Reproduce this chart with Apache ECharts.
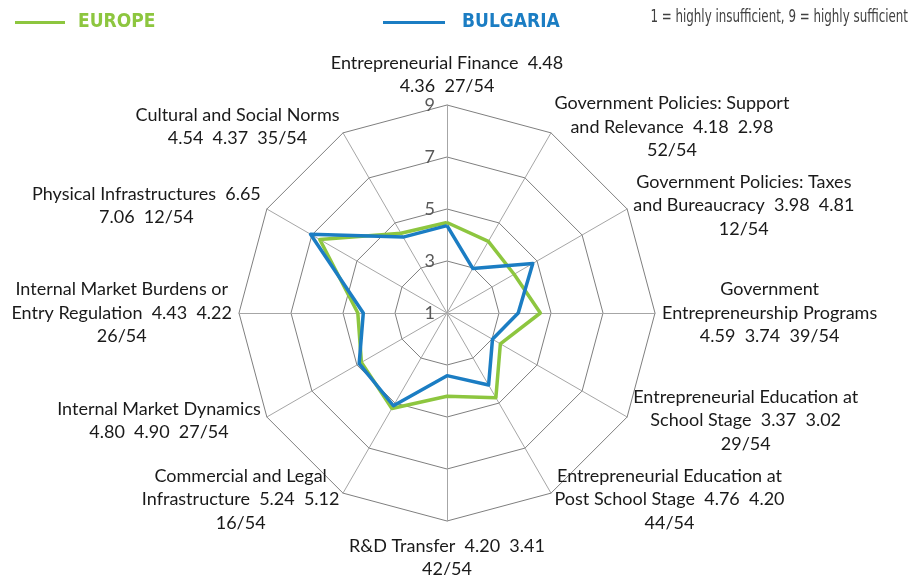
<!DOCTYPE html>
<html>
<head>
<meta charset="utf-8">
<title>GEM Expert Survey – Bulgaria vs Europe</title>
<script src="https://cdn.jsdelivr.net/npm/echarts@6/dist/echarts.min.js"></script>
<style>
  html, body { margin: 0; padding: 0; background: #ffffff; }
  #chart { width: 924px; height: 575px; }
</style>
</head>
<body>
<div id="chart"></div>
<script>
// Framework conditions, listed counter-clockwise starting from the top axis
const indicatorNames = [
  'Entrepreneurial Finance',
  'Cultural and Social Norms',
  'Physical Infrastructures',
  'Internal Market Burdens or\nEntry Regulation',
  'Internal Market Dynamics',
  'Commercial and Legal\nInfrastructure',
  'R&D Transfer',
  'Entrepreneurial Education at\nPost School Stage',
  'Entrepreneurial Education at\nSchool Stage',
  'Government\nEntrepreneurship Programs',
  'Government Policies: Taxes\nand Bureaucracy',
  'Government Policies: Support\nand Relevance'
];
const europeValues   = [4.48, 4.54, 6.65, 4.43, 4.80, 5.24, 4.20, 4.76, 3.37, 4.59, 3.98, 4.18];
const bulgariaValues = [4.36, 4.37, 7.06, 4.22, 4.90, 5.12, 3.41, 4.20, 3.02, 3.74, 4.81, 2.98];
const bulgariaRanks  = ['27/54', '35/54', '12/54', '26/54', '27/54', '16/54', '42/54', '44/54', '29/54', '39/54', '12/54', '52/54'];
// how many of the values stay on the name's last line before wrapping
const valuesOnNameLine = [1, 0, 1, 2, 0, 2, 2, 2, 2, 0, 2, 2];
const scaleMin = 1;
const scaleMax = 9;
const scaleNote = '1 = highly insufficient, 9 = highly sufficient';

const GREEN = '#8dc63f';
const BLUE = '#1b7dc3';
const BODY_FONT = 'Lato, "Open Sans", sans-serif';
const NARROW_FONT = '"Liberation Sans Narrow", "DejaVu Sans Condensed", "Roboto", sans-serif';

function buildLabel(i) {
  const vals = [europeValues[i].toFixed(2), bulgariaValues[i].toFixed(2), bulgariaRanks[i]];
  const k = valuesOnNameLine[i];
  const nameLines = indicatorNames[i].split('\n');
  const head = vals.slice(0, k);
  const tail = vals.slice(k);
  const last = nameLines.length - 1;
  if (head.length) nameLines[last] = nameLines[last] + '  ' + head.join('  ');
  const lines = nameLines.concat(tail.length ? [tail.join('  ')] : []);
  return lines.map(l => '{c|' + l + '}').join('\n');
}

const labelByName = {};
indicatorNames.forEach((n, i) => { labelByName[n] = buildLabel(i); });

const indicators = indicatorNames.map((n, i) => {
  const ind = { name: n, min: scaleMin, max: scaleMax };
  if (i === 0) ind.axisLabel = { show: true };      // scale numbers only on the top axis
  if (i === 6) ind.nameGap = 13;                     // bottom axis name sits a bit lower
  return ind;
});

const chart = echarts.init(document.getElementById('chart'), null, { renderer: 'canvas' });

chart.setOption({
  animation: false,
  backgroundColor: '#ffffff',
  legend: [
    {
      left: 10, top: 8,
      icon: 'rect', itemWidth: 50, itemHeight: 3,
      selectedMode: false,
      data: [{ name: 'EUROPE', textStyle: { color: GREEN } }],
      textStyle: { fontFamily: NARROW_FONT, fontSize: 19, fontWeight: 'bold', padding: [0, 0, 0, 8] }
    },
    {
      left: 378, top: 8,
      icon: 'rect', itemWidth: 62, itemHeight: 3,
      selectedMode: false,
      data: [{ name: 'BULGARIA', textStyle: { color: BLUE } }],
      textStyle: { fontFamily: NARROW_FONT, fontSize: 19, fontWeight: 'bold', padding: [0, 0, 0, 12] }
    }
  ],
  graphic: [{
    type: 'text',
    right: 16,
    top: 8,
    scaleX: 0.66,
    originX: 0,
    style: {
      text: scaleNote,
      fontFamily: '"DejaVu Sans", sans-serif',
      fontSize: 18,
      fill: '#404040'
    }
  }],
  radar: {
    center: [447, 313],
    radius: 208,
    startAngle: 90,
    shape: 'polygon',
    splitNumber: 4,
    indicator: indicators,
    nameGap: 7,
    axisName: {
      formatter: (name) => labelByName[name],
      rich: {
        c: { align: 'center', fontFamily: BODY_FONT, fontSize: 18, lineHeight: 23.5, color: '#1a1a1a' }
      }
    },
    axisLine: { show: true, lineStyle: { color: '#a6a6a6', width: 1 } },
    axisTick: { show: false },
    axisLabel: {
      show: false,
      fontFamily: BODY_FONT,
      fontSize: 18,
      color: '#595959',
      margin: 12
    },
    splitLine: { lineStyle: { color: '#7f7f7f', width: 1 } },
    splitArea: { show: false }
  },
  series: [{
    type: 'radar',
    symbol: 'none',
    data: [
      { name: 'EUROPE', value: europeValues, lineStyle: { color: GREEN, width: 3.5 }, itemStyle: { color: GREEN } },
      { name: 'BULGARIA', value: bulgariaValues, lineStyle: { color: BLUE, width: 3.5 }, itemStyle: { color: BLUE } }
    ]
  }]
});
</script>
</body>
</html>
